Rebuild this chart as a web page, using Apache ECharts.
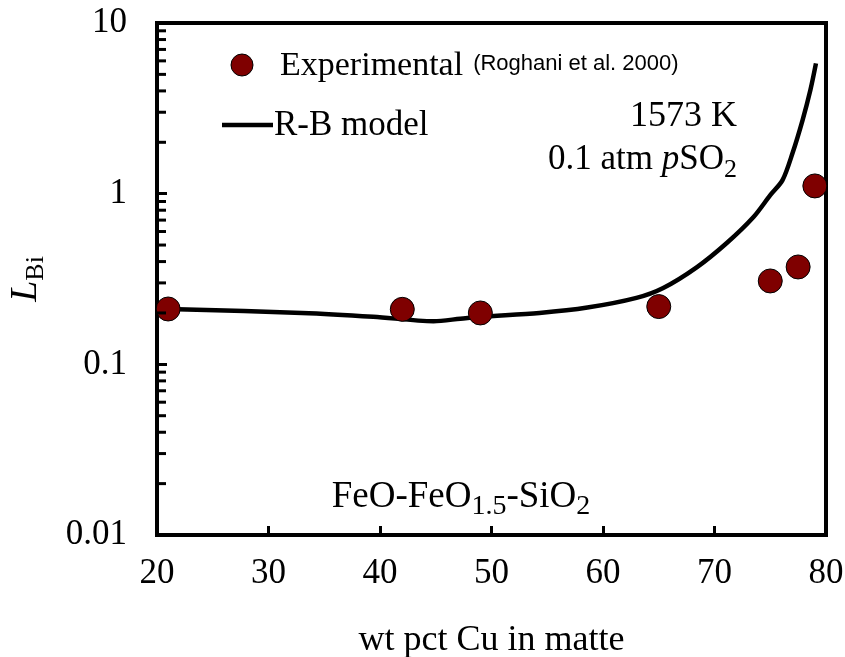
<!DOCTYPE html>
<html>
<head>
<meta charset="utf-8">
<script src="https://cdn.jsdelivr.net/npm/echarts@6/dist/echarts.min.js"></script>
<style>
  html, body { margin: 0; padding: 0; background: #fff; }
  #chart { width: 845px; height: 657px; }
</style>
</head>
<body>
<div id="chart"></div>
<script>
// experimental points (Roghani et al. 2000): wt pct Cu, L_Bi
var expCu = [21, 42, 49, 65, 75, 77.5, 79];
var expL  = [0.211, 0.21, 0.2, 0.218, 0.308, 0.372, 1.11];

// R-B model curve
var modelCu = [21, 33, 39.4, 44.8, 47.2, 49, 54.3, 58.6, 63, 65.4, 68.4, 71.1, 73.5, 75, 76.1, 77, 77.9, 78.6, 79.1];
var modelL  = [0.211, 0.2, 0.19, 0.179, 0.185, 0.19, 0.2, 0.215, 0.245, 0.28, 0.37, 0.514, 0.73, 0.98, 1.2, 1.73, 2.7, 4.05, 5.8];

// minor ticks on the log axis
var minorTicks = [0.02, 0.03, 0.04, 0.05, 0.06, 0.07, 0.08, 0.09,
                  0.2, 0.3, 0.4, 0.5, 0.6, 0.7, 0.8, 0.9,
                  2, 3, 4, 5, 6, 7, 8, 9];

var serif = '"Liberation Serif", "Times New Roman", serif';
var sans = '"Liberation Sans", Arial, sans-serif';

var chart = echarts.init(document.getElementById('chart'));

var option = {
  animation: false,
  grid: {
    left: 157, top: 23, right: 19, bottom: 122,
    containLabel: false,
    outerBoundsMode: 'none',
    show: true, borderColor: '#000', borderWidth: 4
  },
  xAxis: {
    type: 'value', min: 20, max: 80, interval: 10,
    axisLine: { lineStyle: { color: '#000', width: 4 } },
    axisTick: { inside: true, length: 9, lineStyle: { color: '#000', width: 3 } },
    axisLabel: { color: '#000', fontFamily: serif, fontSize: 35, margin: 21 },
    splitLine: { show: false },
    name: 'wt pct Cu in matte',
    nameLocation: 'middle',
    nameGap: 88,
    nameTextStyle: { color: '#000', fontFamily: serif, fontSize: 36 }
  },
  yAxis: {
    type: 'log', logBase: 10, min: 0.01, max: 10,
    axisLine: { lineStyle: { color: '#000', width: 4 } },
    axisTick: { inside: true, length: 10, lineStyle: { color: '#000', width: 3 } },
    axisLabel: { color: '#000', fontFamily: serif, fontSize: 35, margin: 30 },
    splitLine: { show: false },
    name: '{i|L}{s|Bi}',
    nameLocation: 'middle',
    nameGap: 108,
    nameTextStyle: {
      rich: {
        i: { fontFamily: serif, fontStyle: 'italic', fontSize: 38, color: '#000' },
        s: { fontFamily: serif, fontSize: 26, color: '#000', padding: [20, 0, 0, 0] }
      }
    }
  },
  series: [
    {
      name: 'minor',
      type: 'custom',
      silent: true,
      clip: false,
      data: minorTicks.map(function (v) { return [20, v]; }),
      renderItem: function (params, api) {
        var p = api.coord([api.value(0), api.value(1)]);
        return {
          type: 'line',
          shape: { x1: p[0], y1: p[1], x2: p[0] + 9, y2: p[1] },
          style: { stroke: '#000', lineWidth: 3 }
        };
      },
      z: 5
    },
    {
      name: 'R-B model',
      type: 'line',
      smooth: 0.3,
      symbol: 'none',
      data: modelCu.map(function (x, i) { return [x, modelL[i]]; }),
      lineStyle: { color: '#000', width: 4.5 },
      z: 3
    },
    {
      name: 'Experimental',
      type: 'scatter',
      symbolSize: 24,
      data: expCu.map(function (x, i) { return [x, expL[i]]; }),
      itemStyle: { color: '#7f0000', borderColor: '#000', borderWidth: 1, opacity: 1 },
      z: 4
    }
  ],
  graphic: [
    {
      type: 'circle', shape: { cx: 242, cy: 65, r: 11 },
      style: { fill: '#7f0000', stroke: '#000', lineWidth: 1 }
    },
    {
      type: 'text', x: 280, y: 66,
      style: {
        text: '{a|Experimental}{b|(Roghani et al. 2000)}',
        verticalAlign: 'middle',
        rich: {
          a: { fontFamily: serif, fontSize: 34, fill: '#000' },
          b: { fontFamily: sans, fontSize: 22, fill: '#000', padding: [0, 0, 5, 10] }
        }
      }
    },
    {
      type: 'line', shape: { x1: 222, y1: 125, x2: 273, y2: 125 },
      style: { stroke: '#000', lineWidth: 4.5 }
    },
    {
      type: 'text', x: 274, y: 126,
      style: { text: 'R-B model', fontFamily: serif, fontSize: 35, fill: '#000', verticalAlign: 'middle' }
    },
    {
      type: 'text', x: 737, y: 117,
      style: { text: '1573 K', fontFamily: serif, fontSize: 36, fill: '#000', align: 'right', verticalAlign: 'middle' }
    },
    {
      type: 'text', x: 737, y: 160,
      style: {
        text: '{n|0.1 atm }{i|p}{n|SO}{s|2}',
        align: 'right', verticalAlign: 'middle',
        rich: {
          n: { fontFamily: serif, fontSize: 35, fill: '#000' },
          i: { fontFamily: serif, fontSize: 35, fontStyle: 'italic', fill: '#000' },
          s: { fontFamily: serif, fontSize: 26, fill: '#000', padding: [20, 0, 0, 0] }
        }
      }
    },
    {
      type: 'text', x: 461, y: 497,
      style: {
        text: '{n|FeO-FeO}{s|1.5}{n|-SiO}{s|2}',
        align: 'center', verticalAlign: 'middle',
        rich: {
          n: { fontFamily: serif, fontSize: 37, fill: '#000' },
          s: { fontFamily: serif, fontSize: 28, fill: '#000', padding: [20, 0, 0, 0] }
        }
      }
    }
  ]
};

chart.setOption(option);
</script>
</body>
</html>
